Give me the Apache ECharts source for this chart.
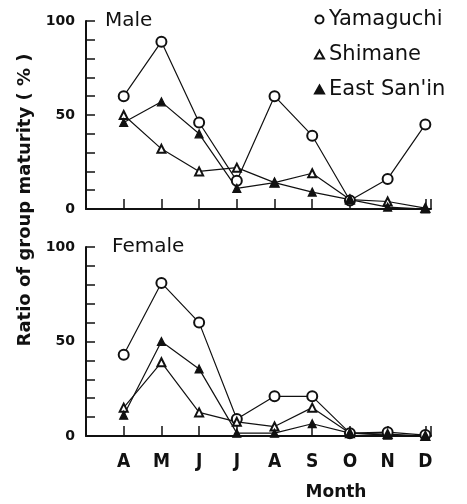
<!DOCTYPE html>
<html>
<head>
<meta charset="utf-8">
<script src="https://cdn.jsdelivr.net/npm/echarts@6/dist/echarts.min.js"></script>
<style>html,body{margin:0;padding:0;background:#fff}#c{width:467px;height:504px}</style>
</head>
<body>
<div id="c"></div>
<script>
const months = ['A','M','J','J','A','S','O','N','D'];
const seriesNames = ['Yamaguchi','Shimane',"East San'in"];
const maleYamaguchi = [60, 89, 46, 15, 60, 39, 4.5, 16, 45];
const maleShimane = [50, 32, 20, 22, 14, 19, 5, 4, 0.5];
const maleEastSanin = [46, 57, 40, 11, 14, 9, 5, 1, 0];
const femaleYamaguchi = [43, 81, 60, 9, 21, 21, 1.5, 2, 0.5];
const femaleShimane = [15, 39, 12.5, 7.5, 5, 15, 1.5, 1, 0];
const femaleEastSanin = [11, 50, 35.5, 1.5, 1.5, 6.5, 1.5, 0.5, 0];
const yTickLabels = ['0', '50', '100'];

const pairs = arr => arr.map((v, i) => [i, v]);
const ink = '#111';
const symbols = ['emptyCircle', 'emptyTriangle', 'triangle'];
const symbolSizes = [10, 8, 8];

function yAxis(gridIndex) {
  return {
    type: 'value', gridIndex, min: 0, max: 100, interval: 10,
    axisLine: {show: true, onZero: false, lineStyle: {color: ink, width: 2}},
    axisTick: {show: true, inside: true, length: 9, lineStyle: {color: ink, width: 1.5}},
    splitLine: {show: false},
    axisLabel: {
      margin: 11, color: ink, fontFamily: 'DejaVu Sans', fontWeight: 'bold', fontSize: 14,
      formatter: v => yTickLabels.includes(String(v)) ? String(v) : ''
    }
  };
}
function xAxis(gridIndex, showLabels) {
  return {
    type: 'value', gridIndex, min: -1, max: 8.15, interval: 1,
    axisLine: {show: true, onZero: false, lineStyle: {color: ink, width: 2}},
    axisTick: {show: true, inside: true, length: 10, lineStyle: {color: ink, width: 1.5}},
    splitLine: {show: false},
    axisLabel: {
      show: showLabels, margin: 17, color: ink,
      fontFamily: "'Liberation Sans Narrow', 'DejaVu Sans Condensed', 'Liberation Sans', sans-serif",
      fontWeight: 'bold', fontSize: 19,
      formatter: v => (v >= 0 && v < months.length && Number.isInteger(v)) ? months[v] : ''
    }
  };
}
function mkSeries(name, idx, data, axisIdx) {
  return {
    name, type: 'line', xAxisIndex: axisIdx, yAxisIndex: axisIdx,
    data: pairs(data), symbol: symbols[idx], symbolSize: symbolSizes[idx],
    showAllSymbol: true,
    lineStyle: {color: ink, width: 1.2},
    itemStyle: {color: ink, borderColor: ink, borderWidth: 1.2},
    emphasis: {disabled: true}, animation: false
  };
}

const chart = echarts.init(document.getElementById('c'), null, {renderer: 'canvas'});
chart.setOption({
  backgroundColor: '#fff',
  animation: false,
  grid: [
    {left: 86, top: 21, width: 345, height: 188},
    {left: 86, top: 247, width: 345, height: 189}
  ],
  xAxis: [xAxis(0, false), xAxis(1, true)],
  yAxis: [yAxis(0), yAxis(1)],
  legend: {
    orient: 'vertical', left: 314, top: 9, itemGap: 14, padding: 0,
    itemWidth: 9, itemHeight: 8,
    selectedMode: false,
    textStyle: {color: ink, fontFamily: 'DejaVu Sans', fontSize: 21},
    data: [
      {name: seriesNames[0], icon: 'emptyCircle'},
      {name: seriesNames[1], icon: 'emptyTriangle'},
      {name: seriesNames[2], icon: 'triangle'}
    ]
  },
  series: [
    mkSeries(seriesNames[0], 0, maleYamaguchi, 0),
    mkSeries(seriesNames[1], 1, maleShimane, 0),
    mkSeries(seriesNames[2], 2, maleEastSanin, 0),
    mkSeries(seriesNames[0], 0, femaleYamaguchi, 1),
    mkSeries(seriesNames[1], 1, femaleShimane, 1),
    mkSeries(seriesNames[2], 2, femaleEastSanin, 1)
  ],
  graphic: [
    {type: 'text', left: 105, top: 11, style: {text: 'Male', fill: ink, font: '20px "DejaVu Sans"'}},
    {type: 'text', left: 112, top: 237, style: {text: 'Female', fill: ink, font: '20px "DejaVu Sans"'}},
    {type: 'text', x: 25, y: 200, rotation: Math.PI / 2,
     style: {text: 'Ratio of group maturity ( % )', fill: ink, font: 'bold 18px "DejaVu Sans"', align: 'center', verticalAlign: 'middle'}},
    {type: 'text', x: 336, y: 493,
     style: {text: 'Month', fill: ink, font: 'bold 17px "DejaVu Sans"', align: 'center', verticalAlign: 'middle'}}
  ]
});
</script>
</body>
</html>
